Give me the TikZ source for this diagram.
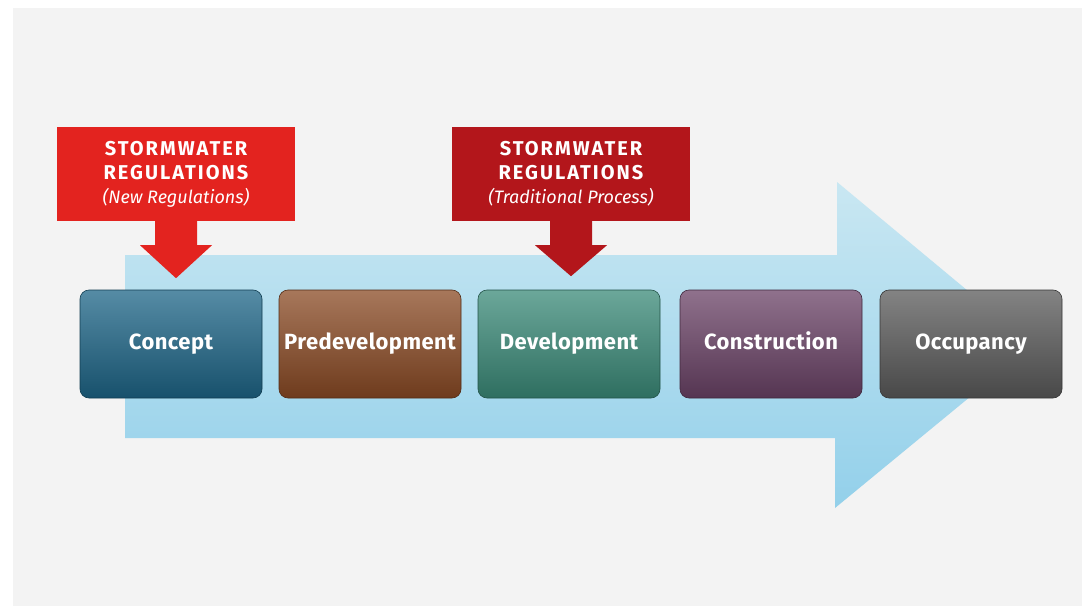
\documentclass[tikz,border=0pt]{standalone}
\usepackage{fontspec}
\setmainfont{Fira Sans}
\usetikzlibrary{calc}
\definecolor{bggray}{HTML}{F3F3F3}
\definecolor{arrowtop}{HTML}{C9E7F2}
\definecolor{arrowbot}{HTML}{93D0EA}
\definecolor{redA}{HTML}{E3231F}
\definecolor{redB}{HTML}{B3161B}
\definecolor{cConcept}{HTML}{1D6587}
\definecolor{cPre}{HTML}{8A4A24}
\definecolor{cDev}{HTML}{3A8A78}
\definecolor{cCons}{HTML}{6A4266}
\definecolor{cOcc}{HTML}{5A5A5A}
\tikzset{
  stage/.style={minimum width=182pt, minimum height=108pt, rounded corners=9pt,
    text=white, inner sep=0pt, text height=15pt, text depth=5pt,
    font=\bfseries\fontsize{22}{24}\selectfont\addfontfeatures{LetterSpace=2},
    top color=#1!75!white, bottom color=#1!80!black, draw=#1!60!black, line width=0.6pt},
  regbox/.style={minimum width=238pt, minimum height=94pt, fill=#1, text=white,
    align=center, inner sep=0pt,
    font=\bfseries\fontsize{20}{24}\selectfont\addfontfeatures{LetterSpace=10}},
  regarrow/.style={fill=#1}
}
\newcommand{\subtxt}[1]{{\mdseries\itshape\fontsize{18}{24}\selectfont\addfontfeatures{LetterSpace=0}#1}}
\begin{document}
\begin{tikzpicture}[x=1pt,y=-1pt]
\useasboundingbox (0,0) rectangle (1082,613);
\fill[white] (0,0) rectangle (1082,613);
\fill[bggray] (13,8) rectangle (1082,606);
% big process arrow
\shade[top color=arrowtop, bottom color=arrowbot]
  (125,255) -- (837,255) -- (837,182) -- (1033,345) -- (835,508) -- (835,438) -- (125,438) -- cycle;
% stages
\node[stage=cConcept] (concept) at (171,344) {Concept};
\node[stage=cPre]     (predev)  at (370,344) {Predevelopment};
\node[stage=cDev]     (dev)     at (569,344) {Development};
\node[stage=cCons]    (cons)    at (771,344) {Construction};
\node[stage=cOcc]     (occ)     at (971,344) {Occupancy};
% regulation boxes
\node[regbox=redA] (reg1) at (176,174) {STORMWATER\\REGULATIONS\\\subtxt{(New Regulations)}};
\node[regbox=redB] (reg2) at (571,174) {STORMWATER\\REGULATIONS\\\subtxt{(Traditional Process)}};
% down arrows
\fill[regarrow=redA] ($(reg1.south)+(-21,-1)$) -- ++(0,25) -- ++(-15,0) -- ++(36,33) -- ++(36,-33) -- ++(-15,0) -- ++(0,-25) -- cycle;
\fill[regarrow=redB] ($(reg2.south)+(-21,-1)$) -- ++(0,25) -- ++(-15,0) -- ++(36,31) -- ++(36,-31) -- ++(-15,0) -- ++(0,-25) -- cycle;
\end{tikzpicture}
\end{document}
